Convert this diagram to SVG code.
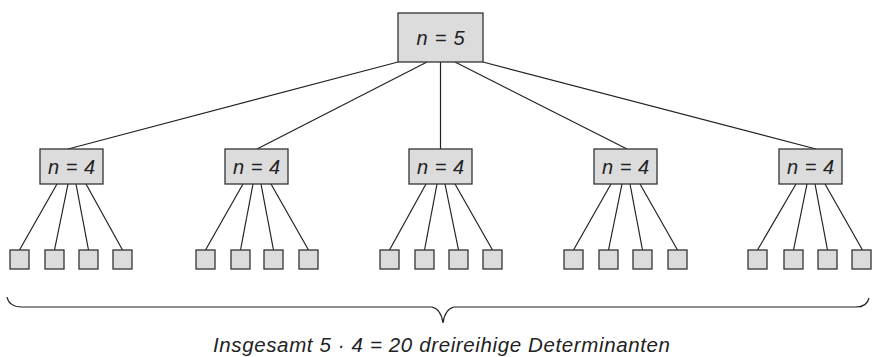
<svg xmlns="http://www.w3.org/2000/svg" width="872" height="357" viewBox="0 0 872 357">
<style>
.box{fill:#dcdcdc;stroke:#333;stroke-width:1.3}
.lbl{font-family:"Liberation Sans",Arial,sans-serif;font-style:italic;font-size:20px;fill:#222;text-anchor:middle}
.cap{font-family:"Liberation Sans",Arial,sans-serif;font-style:italic;font-size:20.5px;fill:#222;text-anchor:middle}
.ln{stroke:#222;stroke-width:1.2;fill:none}
</style>
<rect width="872" height="357" fill="#fff"/>
<g id="connectors" class="ln">
<line x1="398" y1="62" x2="68" y2="149"/>
<line x1="427" y1="62" x2="257" y2="149"/>
<line x1="440.5" y1="62" x2="440.5" y2="149"/>
<line x1="455" y1="62" x2="627" y2="149"/>
<line x1="483" y1="62" x2="816" y2="149"/>
<line x1="57" y1="184" x2="19.5" y2="250"/><line x1="68" y1="184" x2="54.5" y2="250"/><line x1="76" y1="184" x2="88.5" y2="250"/><line x1="86" y1="184" x2="122.5" y2="250"/>
<line x1="243" y1="184" x2="205.5" y2="250"/><line x1="253" y1="184" x2="240.5" y2="250"/><line x1="261" y1="184" x2="273.5" y2="250"/><line x1="271" y1="184" x2="308.5" y2="250"/>
<line x1="426" y1="184" x2="389.5" y2="250"/><line x1="437" y1="184" x2="424.5" y2="250"/><line x1="445" y1="184" x2="458.5" y2="250"/><line x1="455" y1="184" x2="492.5" y2="250"/>
<line x1="611" y1="184" x2="573.5" y2="250"/><line x1="622" y1="184" x2="608.5" y2="250"/><line x1="630" y1="184" x2="642.5" y2="250"/><line x1="640" y1="184" x2="677.5" y2="250"/>
<line x1="796" y1="184" x2="757.5" y2="250"/><line x1="807" y1="184" x2="793.5" y2="250"/><line x1="815" y1="184" x2="827.5" y2="250"/><line x1="825" y1="184" x2="862.5" y2="250"/>
</g>
<g id="root"><rect class="box" x="398" y="13" width="85" height="49"/><text class="lbl" x="440.5" y="44.5" textLength="48" lengthAdjust="spacing">n = 5</text></g>
<g id="n4-1"><rect class="box" x="40" y="149" width="63" height="35"/><text class="lbl" x="71.5" y="173.5" textLength="47" lengthAdjust="spacing">n = 4</text></g>
<g id="n4-2"><rect class="box" x="225" y="149" width="63" height="35"/><text class="lbl" x="256.5" y="173.5" textLength="47" lengthAdjust="spacing">n = 4</text></g>
<g id="n4-3"><rect class="box" x="409" y="149" width="63" height="35"/><text class="lbl" x="440.5" y="173.5" textLength="47" lengthAdjust="spacing">n = 4</text></g>
<g id="n4-4"><rect class="box" x="594" y="149" width="63" height="35"/><text class="lbl" x="625.5" y="173.5" textLength="47" lengthAdjust="spacing">n = 4</text></g>
<g id="n4-5"><rect class="box" x="779" y="149" width="63" height="35"/><text class="lbl" x="810.5" y="173.5" textLength="47" lengthAdjust="spacing">n = 4</text></g>
<g id="leaves">
<rect class="box" x="10" y="250" width="19" height="19"/><rect class="box" x="45" y="250" width="19" height="19"/><rect class="box" x="79" y="250" width="19" height="19"/><rect class="box" x="113" y="250" width="19" height="19"/>
<rect class="box" x="196" y="250" width="19" height="19"/><rect class="box" x="231" y="250" width="19" height="19"/><rect class="box" x="264" y="250" width="19" height="19"/><rect class="box" x="299" y="250" width="19" height="19"/>
<rect class="box" x="380" y="250" width="19" height="19"/><rect class="box" x="415" y="250" width="19" height="19"/><rect class="box" x="449" y="250" width="19" height="19"/><rect class="box" x="483" y="250" width="19" height="19"/>
<rect class="box" x="564" y="250" width="19" height="19"/><rect class="box" x="599" y="250" width="19" height="19"/><rect class="box" x="633" y="250" width="19" height="19"/><rect class="box" x="668" y="250" width="19" height="19"/>
<rect class="box" x="748" y="250" width="19" height="19"/><rect class="box" x="784" y="250" width="19" height="19"/><rect class="box" x="818" y="250" width="19" height="19"/><rect class="box" x="852" y="250" width="19" height="19"/>
</g>
<path class="ln" d="M7,297 Q9,307 22,307 L432,307 Q441,309 443,323 Q445,309 454,307 L856,307 Q867,307 869,298"/>
<text class="cap" x="441.5" y="352" textLength="457" lengthAdjust="spacing">Insgesamt 5 · 4 = 20 dreireihige Determinanten</text>
</svg>
